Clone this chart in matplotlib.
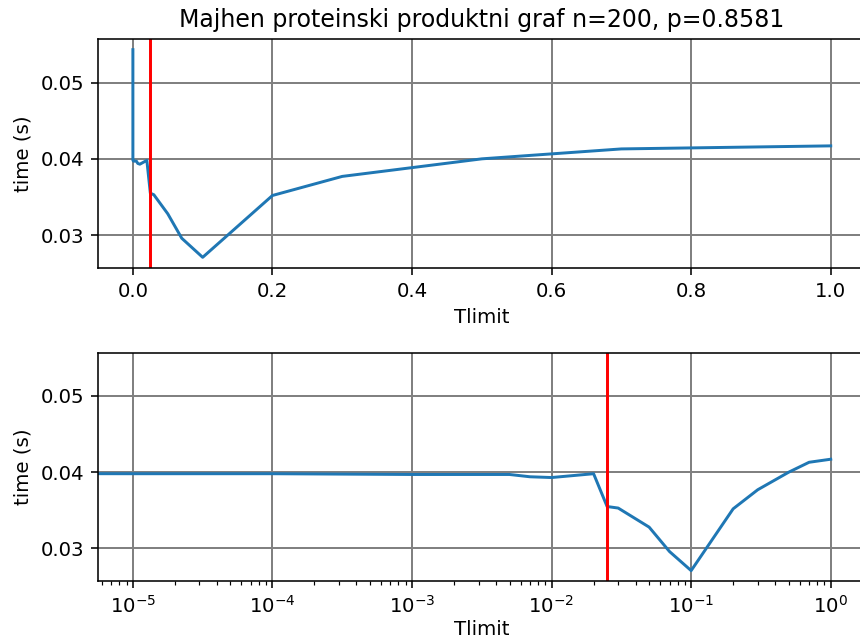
import numpy as np
import matplotlib
matplotlib.use("Agg")
import matplotlib.pyplot as plt

# Tlimit sweep and measured run time
tlimit = [0.0, 1e-5, 1e-4, 1e-3, 5e-3, 7e-3, 1e-2, 2e-2, 2.5e-2, 3e-2,
          5e-2, 7e-2, 0.1, 0.2, 0.3, 0.5, 0.7, 1.0]
times = [0.0543, 0.0398, 0.0398, 0.0397, 0.0397, 0.0394, 0.0393, 0.0398,
         0.0355, 0.0353, 0.0328, 0.0296, 0.0271, 0.0352, 0.0377, 0.0400,
         0.0413, 0.0417]
best_tlimit = 0.025
title = "Majhen proteinski produktni graf n=200, p=0.8581"

DPI = 142
fig = plt.figure(figsize=(860 / DPI, 641 / DPI), dpi=DPI)

W, H = 860.0, 641.0
left, right = 98.0, 865.6
ax1 = fig.add_axes([left / W, 1 - 267.7 / H, (right - left) / W, (267.7 - 39.3) / H])
ax2 = fig.add_axes([left / W, 1 - 581.0 / H, (right - left) / W, (581.0 - 352.7) / H])

span = max(times) - min(times)
ylim = (min(times) - 0.05 * span, max(times) + 0.05 * span)

for ax in (ax1, ax2):
    ax.plot(tlimit, times, color="#1f77b4", linewidth=1.5)
    ax.axvline(best_tlimit, color="red", linewidth=1.5)
    ax.grid(True, color="gray", linewidth=1.0)
    ax.set_ylabel("time (s)")
    ax.set_yticks([0.03, 0.04, 0.05])
    ax.set_ylim(*ylim)

ax1.set_xlabel("Tlimit")
ax2.set_xlabel("Tlimit", labelpad=1.5)
ax1.set_title(title)

ax2.set_xscale("log")
pos = [t for t in tlimit if t > 0]
lo, hi = np.log10(min(pos)), np.log10(max(pos))
m = 0.05 * (hi - lo)
ax2.set_xlim(10 ** (lo - m), 10 ** (hi + m))

fig.savefig("out.png", dpi=DPI)
